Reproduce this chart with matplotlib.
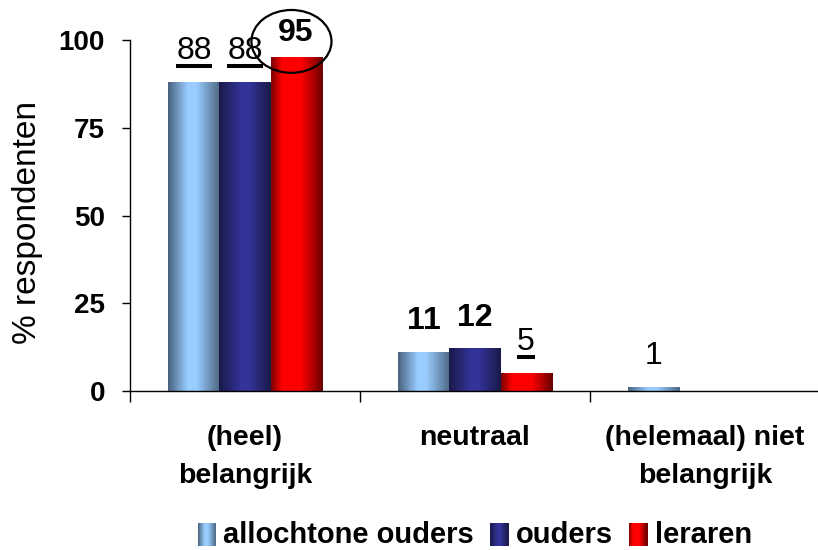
import numpy as np
import matplotlib
matplotlib.use('Agg')
import matplotlib.pyplot as plt
from matplotlib.colors import LinearSegmentedColormap
from matplotlib.patches import Ellipse, Rectangle
from matplotlib.legend_handler import HandlerBase
from matplotlib.lines import Line2D
from matplotlib.transforms import IdentityTransform

plt.rcParams['font.family'] = ['Liberation Sans', 'DejaVu Sans']

# ---------------- data ----------------
categories = ['(heel)\nbelangrijk', 'neutraal', '(helemaal) niet\nbelangrijk']
series = ['allochtone ouders', 'ouders', 'leraren']
allochtone_ouders = [88, 11, 1]
ouders = [88, 12, 0]
leraren = [95, 5, 0]
yticks = [0, 25, 50, 75, 100]

values = [allochtone_ouders, ouders, leraren]

# label styles per series / category: u = underlined normal, b = bold, n = normal, bc = bold + circled
label_styles = [['u', 'b', 'n'], ['u', 'b', 'n'], ['bc', 'u', 'n']]

gradients = [
    [(0.0, '#48627e'), (0.38, '#99ccff'), (0.55, '#99ccff'), (1.0, '#4d6783')],
    [(0.0, '#191949'), (0.42, '#333399'), (0.58, '#333399'), (1.0, '#191949')],
    [(0.0, '#7a0000'), (0.22, '#ff0000'), (0.58, '#ff0000'), (1.0, '#680000')],
]
cmaps = [LinearSegmentedColormap.from_list('g%d' % i, g) for i, g in enumerate(gradients)]

W, H = 818, 550
fig = plt.figure(figsize=(W / 100, H / 100), dpi=100)
ax = fig.add_axes([130 / W, (H - 391) / H, 690 / W, 351 / H])

n = len(series)
bw = 0.222
x = np.arange(len(categories))
grad = np.linspace(0, 1, 256).reshape(1, -1)

bars_all = []
for i, (vals, cm) in enumerate(zip(values, cmaps)):
    offs = (i - (n - 1) / 2) * bw
    bars = ax.bar(x + offs, vals, width=bw, color='none', edgecolor='none', zorder=2)
    bars_all.append(bars)
    for r in bars:
        h = r.get_height()
        if h <= 0:
            continue
        x0 = r.get_x()
        ax.imshow(grad, extent=[x0, x0 + r.get_width(), 0, h], aspect='auto',
                  cmap=cm, zorder=2, interpolation='bilinear')

ax.set_xlim(-0.5, 2.5)
ax.set_ylim(0, 100)
ax.set_aspect('auto')

for s in ['top', 'right']:
    ax.spines[s].set_visible(False)
for s in ['left', 'bottom']:
    ax.spines[s].set_linewidth(1.0)

ax.set_yticks(yticks)
ax.set_yticklabels([str(t) for t in yticks], fontsize=20, fontweight='bold')
ax.tick_params(axis='y', direction='out', length=6, width=1, pad=12)

ax.set_xticks(x)
ax.set_xticklabels(categories, fontsize=20.5, fontweight='bold', linespacing=1.6)
ax.set_xticks(np.arange(-0.5, len(categories), 1.0), minor=True)
ax.tick_params(axis='x', which='major', length=0, pad=24.5)
ax.tick_params(axis='x', which='minor', direction='out', length=8, width=1)

ax.set_ylabel('% respondenten', fontsize=24)
ax.yaxis.set_label_coords(-0.126, 0.48)

# value labels
texts = []
for i, vals in enumerate(values):
    for j, v in enumerate(vals):
        if v <= 0:
            continue
        st = label_styles[i][j]
        r = bars_all[i][j]
        cx = r.get_x() + r.get_width() / 2
        bold = 'b' in st
        off = 17 if 'c' in st else 23
        t = ax.annotate(str(v), (cx, v), xytext=(0, off), textcoords='offset pixels',
                        ha='center', va='baseline', fontsize=23,
                        fontweight='bold' if bold else 'normal', annotation_clip=False)
        texts.append((t, st, cx, v, off))
        if 'c' in st:
            ax.add_patch(Ellipse((cx - 0.02, v + 4.6), 0.348, 17.9, fill=False,
                                 lw=1.6, edgecolor='black', clip_on=False, zorder=5))

# legend with gradient handles
class GradHandler(HandlerBase):
    def __init__(self, cmap):
        super().__init__()
        self.cmap = cmap

    def create_artists(self, legend, orig_handle, xdescent, ydescent, width, height, fontsize, trans):
        arts = []
        N = 18
        for k in range(N):
            c = self.cmap((k + 0.5) / N)
            arts.append(Rectangle((-xdescent + width * k / N, -ydescent - 3), width / N + 0.3, height + 3,
                                  facecolor=c, edgecolor='none', transform=trans))
        return arts

handles = [Rectangle((0, 0), 1, 1) for _ in series]
leg = fig.legend(handles, series, loc='center', bbox_to_anchor=(475 / W, 1 - 535 / H),
                 ncol=3, frameon=False, prop={'size': 21, 'weight': 'bold'},
                 handlelength=0.62, handleheight=0.6, handletextpad=0.27, columnspacing=0.55,
                 borderaxespad=0, borderpad=0,
                 handler_map={h: GradHandler(cm) for h, cm in zip(handles, cmaps)})

# underlines
fig.canvas.draw()
rend = fig.canvas.get_renderer()
for t, st, cx, v, off in texts:
    if 'u' not in st:
        continue
    bb = t.get_window_extent(rend)
    bx, by = ax.transData.transform((cx, v))
    yb = by + off - 7
    fig.add_artist(Line2D([bb.x0, bb.x1], [yb, yb], transform=IdentityTransform(),
                          color='black', lw=2.9, solid_capstyle='butt'))

fig.savefig('out.png', dpi=100)
